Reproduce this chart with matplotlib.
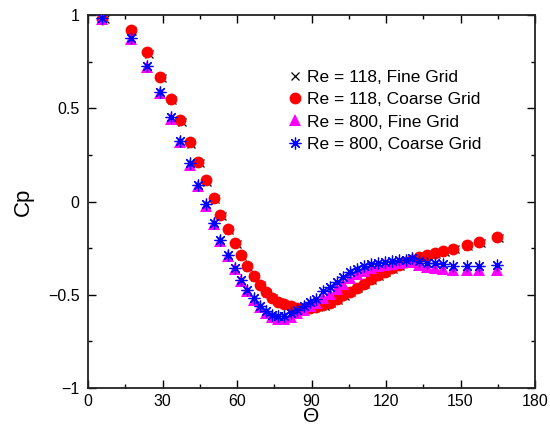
import matplotlib
matplotlib.use("Agg")
import matplotlib.pyplot as plt
from matplotlib.ticker import FixedLocator, FuncFormatter

plt.rcParams['font.family'] = ['Liberation Sans', 'DejaVu Sans']

# Data
theta_grid = [5.5, 17.3, 23.8, 29.1, 33.3, 37.2, 40.9, 44.3, 47.5, 50.6,
              53.3, 56.3, 59.2, 61.6, 64.0, 66.7, 69.2, 71.6, 74.0, 76.5,
              79.0, 81.6, 84.2, 86.8, 89.4, 92.0, 94.7, 97.4, 100.1, 102.8,
              105.5, 108.3, 111.1, 113.9, 116.7, 119.5, 122.3, 125.1, 127.9, 130.5,
              133.4, 136.4, 139.7, 143.1, 147.1, 152.5, 157.6, 164.8]

theta_re118_fine = [7.0, 17.9, 24.4, 29.7, 33.9, 37.8, 41.5, 44.9, 48.1, 51.2,
                    53.9, 56.9, 59.8, 62.2, 64.6, 67.3, 69.8, 72.2, 74.6, 77.1,
                    79.6, 82.2, 84.8, 87.4, 90.0, 92.6, 95.3, 98.0, 100.7, 103.4,
                    106.1, 108.9, 111.7, 114.5, 117.3, 120.1, 122.9, 125.7, 128.5, 131.1,
                    134.0, 137.0, 140.3, 143.7, 147.7, 153.1, 158.2, 165.4]
cp_re118_fine = [0.977, 0.915, 0.793, 0.662, 0.543, 0.427, 0.309, 0.204, 0.106, 0.012,
                 -0.077, -0.154, -0.227, -0.291, -0.351, -0.405, -0.45, -0.488, -0.518, -0.54,
                 -0.555, -0.565, -0.571, -0.574, -0.573, -0.568, -0.558, -0.544, -0.527, -0.507,
                 -0.487, -0.466, -0.444, -0.421, -0.399, -0.38, -0.362, -0.346, -0.331, -0.317,
                 -0.304, -0.292, -0.281, -0.27, -0.257, -0.238, -0.22, -0.194]

cp_re118_coarse = [0.98, 0.92, 0.80, 0.67, 0.55, 0.435, 0.317, 0.212, 0.114, 0.02,
                   -0.07, -0.147, -0.22, -0.285, -0.346, -0.40, -0.446, -0.484, -0.515, -0.537,
                   -0.552, -0.562, -0.569, -0.572, -0.571, -0.566, -0.556, -0.542, -0.525, -0.503,
                   -0.483, -0.462, -0.44, -0.417, -0.395, -0.376, -0.358, -0.342, -0.327, -0.313,
                   -0.30, -0.288, -0.277, -0.266, -0.253, -0.234, -0.216, -0.19]

cp_re800_fine = [0.978, 0.873, 0.722, 0.58, 0.445, 0.32, 0.198, 0.083, -0.022, -0.122,
                 -0.213, -0.294, -0.364, -0.428, -0.48, -0.528, -0.567, -0.597, -0.617, -0.628,
                 -0.628, -0.618, -0.6, -0.58, -0.562, -0.545, -0.52, -0.495, -0.468, -0.44,
                 -0.412, -0.39, -0.372, -0.358, -0.347, -0.34, -0.335, -0.33, -0.326, -0.325,
                 -0.34, -0.35, -0.355, -0.36, -0.367, -0.368, -0.368, -0.365]

cp_re800_coarse = [0.982, 0.878, 0.728, 0.587, 0.451, 0.326, 0.205, 0.09, -0.015, -0.115,
                   -0.206, -0.287, -0.357, -0.42, -0.472, -0.52, -0.558, -0.588, -0.606, -0.616,
                   -0.612, -0.60, -0.58, -0.558, -0.54, -0.525, -0.478, -0.458, -0.432, -0.405,
                   -0.38, -0.363, -0.348, -0.337, -0.33, -0.323, -0.32, -0.315, -0.312, -0.305,
                   -0.318, -0.33, -0.332, -0.336, -0.345, -0.346, -0.346, -0.34]

labels = ["Re = 118, Fine Grid", "Re = 118, Coarse Grid",
          "Re = 800, Fine Grid", "Re = 800, Coarse Grid"]

x_major = [0, 30, 60, 90, 120, 150, 180]
x_minor = [15, 45, 75, 105, 135, 165]
y_major = [-1, -0.5, 0, 0.5, 1]
y_minor = [-0.75, -0.25, 0.25, 0.75]

fig = plt.figure(figsize=(5.5, 4.3), dpi=100)
ax = fig.add_axes([88/550, 1 - 388/430, (535 - 88)/550, (388 - 15)/430])

ax.plot(theta_re118_fine, cp_re118_fine, linestyle='none', marker='x',
        color='black', markersize=6, markeredgewidth=0.9, label=labels[0], zorder=2)
ax.plot(theta_grid, cp_re118_coarse, linestyle='none', marker='o',
        color='#ff0000', markersize=8.5, markeredgewidth=0, label=labels[1], zorder=3)
ax.plot(theta_grid, cp_re800_fine, linestyle='none', marker='^',
        color='#ff00ff', markersize=8.5, markeredgewidth=0, label=labels[2], zorder=4)
ax.plot(theta_grid, cp_re800_coarse, linestyle='none', marker=(8, 2, 0),
        color='#0000ff', markersize=8.5, markeredgewidth=0.9, label=labels[3], zorder=5)

ax.set_xlim(0, 180)
ax.set_ylim(-1, 1)
ax.xaxis.set_major_locator(FixedLocator(x_major))
ax.xaxis.set_minor_locator(FixedLocator(x_minor))
ax.yaxis.set_major_locator(FixedLocator(y_major))
ax.yaxis.set_minor_locator(FixedLocator(y_minor))
ax.yaxis.set_major_formatter(FuncFormatter(lambda v, p: ("%g" % v).replace('-', '\u2212')))
ax.xaxis.set_major_formatter(FuncFormatter(lambda v, p: "%g" % v))

ax.tick_params(which='both', direction='in', top=True, right=True,
               labelsize=11.5, colors='black', width=1.0)
ax.tick_params(which='major', length=6, pad=6)
ax.tick_params(axis='x', which='major', pad=4)
ax.tick_params(which='minor', length=3)
for s in ax.spines.values():
    s.set_linewidth(1.3)
    s.set_color('#222222')

ax.set_xlabel('\u0398', fontsize=15, labelpad=-1)
ax.set_ylabel('Cp', fontsize=16, labelpad=10)

leg = ax.legend(loc='upper left', bbox_to_anchor=(0.45, 0.852), frameon=False,
                fontsize=12.5, handlelength=0.7, handletextpad=0.35,
                labelspacing=0.4, borderpad=0, borderaxespad=0)

fig.savefig('out.png', dpi=100)
